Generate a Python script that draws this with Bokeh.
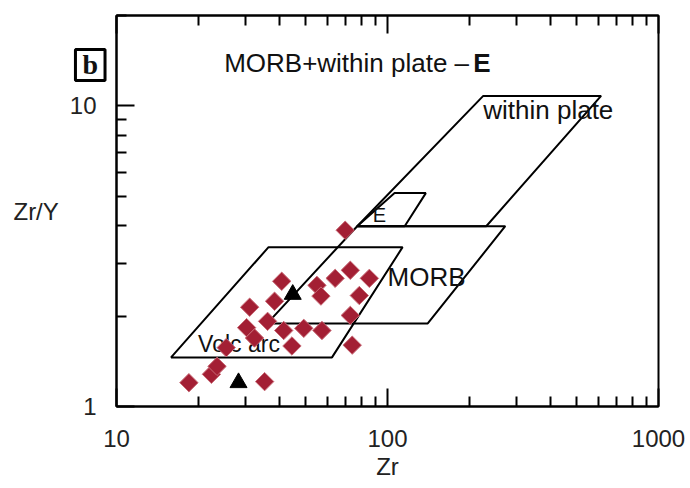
import math
from bokeh.plotting import figure
from bokeh.models import LogAxis, FixedTicker, Label, Range1d, CustomJSTickFormatter
from bokeh.core.properties import value
from bokeh.embed import file_html
from bokeh.resources import INLINE

# --- diagram fields (Zr vs Zr/Y, log-log) ---
volc_x = [15.9, 36.4, 113.7, 62.4]
volc_y = [1.457, 3.39, 3.39, 1.457]
morb_x = [36.0, 77.3, 272.0, 140.8]
morb_y = [1.89, 3.98, 3.98, 1.89]
within_x = [77.3, 225.6, 614.0, 231.4]
within_y = [3.98, 10.8, 10.8, 3.98]
e_x = [77.3, 106.2, 138.5, 115.7]
e_y = [3.98, 5.13, 5.13, 3.98]

# --- samples ---
zr = [18.5, 22.4, 23.5, 25.4, 35.2, 31.0, 30.2, 32.3, 36.1, 38.3, 40.7, 41.4,
      44.4, 49.1, 57.3, 54.9, 56.8, 64.1, 72.9, 85.7, 78.7, 72.9, 74.1, 69.8]
zr_y = [1.20, 1.28, 1.36, 1.57, 1.21, 2.14, 1.83, 1.69, 1.92, 2.24, 2.61, 1.79,
        1.59, 1.82, 1.79, 2.53, 2.33, 2.67, 2.84, 2.67, 2.34, 2.01, 1.60, 3.86]
tri_zr = [44.7, 28.2]
tri_zr_y = [2.36, 1.20]

# --- ticks ---
x_major = [10, 100, 1000]
x_minor = [20, 30, 40, 50, 60, 70, 80, 90, 200, 300, 400, 500, 600, 700, 800, 900]
y_major = [1, 10]
y_minor = [2, 3, 4, 5, 6, 7, 8, 9, 20]

FONT = "Liberation Sans"

p = figure(width=690, height=488, x_axis_type="log", y_axis_type="log",
           x_range=Range1d(10, 1000), y_range=Range1d(1, 20),
           output_backend="svg", toolbar_location=None,
           min_border_left=116, min_border_right=32, min_border_top=15,
           min_border_bottom=82)
p.grid.visible = False
p.background_fill_color = "white"
p.border_fill_color = "white"
p.outline_line_color = "black"
p.outline_line_width = 2

bottom = p.below[0]
left = p.left[0]
top = LogAxis()
p.add_layout(top, "above")

bottom.ticker = FixedTicker(ticks=x_major, minor_ticks=x_minor)
top.ticker = FixedTicker(ticks=x_major, minor_ticks=x_minor)
left.ticker = FixedTicker(ticks=y_major, minor_ticks=y_minor)

for ax in [bottom, left, top]:
    ax.axis_line_width = 2
    ax.axis_line_color = "black"
    ax.major_tick_in = 18
    ax.major_tick_out = 0
    ax.minor_tick_in = 10
    ax.minor_tick_out = 0
    ax.major_tick_line_width = 2
    ax.minor_tick_line_width = 2
    ax.major_tick_line_color = "black"
    ax.minor_tick_line_color = "black"
    ax.major_label_text_font = FONT
    ax.major_label_text_font_size = "24px"
    ax.major_label_text_color = "#222222"
    ax.axis_label_text_font = FONT
    ax.axis_label_text_font_size = "24px"
    ax.axis_label_text_font_style = "normal"
    ax.axis_label_text_color = "#222222"

top.formatter = CustomJSTickFormatter(code="return '';")
top.major_label_text_font_size = "1px"
top.major_label_standoff = 0
bottom.major_label_standoff = 23
bottom.formatter = CustomJSTickFormatter(code="return String(Math.round(tick));")
left.formatter = CustomJSTickFormatter(code="return String(Math.round(tick));")
left.major_label_standoff = 20
bottom.axis_label = "Zr"
bottom.axis_label_standoff = 3
left.axis_label = "Zr/Y"
left.axis_label_orientation = "horizontal"
left.axis_label_standoff = 8

for xs, ys in [(volc_x, volc_y), (morb_x, morb_y), (within_x, within_y), (e_x, e_y)]:
    p.patch(xs, ys, fill_color=None, line_color="black", line_width=2)

# field labels as glyphs (under the points)
p.text(x=[20.0], y=[1.62], text=["Volc arc"], text_font=value(FONT), text_font_size="23px",
       text_baseline="middle", text_align="left", text_color="#111111")
p.text(x=[100.0], y=[2.69], text=["MORB"], text_font=value(FONT), text_font_size="26px",
       text_baseline="middle", text_align="left", text_color="#111111")
p.text(x=[225.6], y=[9.7], text=["within plate"], text_font=value(FONT), text_font_size="26px",
       text_baseline="middle", text_align="left", text_color="#111111")
p.text(x=[93.4], y=[4.33], text=["E"], text_font=value(FONT), text_font_size="20px",
       text_baseline="middle", text_align="center", text_color="#111111")

p.scatter(zr, zr_y, marker="square", angle=math.pi / 4, size=13,
          fill_color="#a31f34", line_color="#c86a76", line_width=1)
p.scatter(tri_zr, tri_zr_y, marker="triangle", size=17, fill_color="black", line_color="black")

# title inside frame
p.add_layout(Label(x=200, y=13.9, text="MORB+within plate \u2013", text_font=FONT,
                   text_font_size="26px", text_align="right", text_baseline="middle",
                   text_color="#111111"))
p.add_layout(Label(x=207, y=13.9, text="E", text_font=FONT, text_font_style="bold",
                   text_font_size="26px", text_align="left", text_baseline="middle",
                   text_color="#111111"))

# boxed panel letter (kept in a side panel so it is not clipped to the frame)
p.add_layout(Label(x=8.0, y=13.7, text="b", text_font="Liberation Serif",
                   text_font_style="bold", padding=(7, 0),
                   text_font_size="28px", text_align="center", text_baseline="middle",
                   border_line_color="black", border_line_width=3,
                   text_color="#111111"), "right")

open("out.html", "w").write(file_html(p, INLINE))
